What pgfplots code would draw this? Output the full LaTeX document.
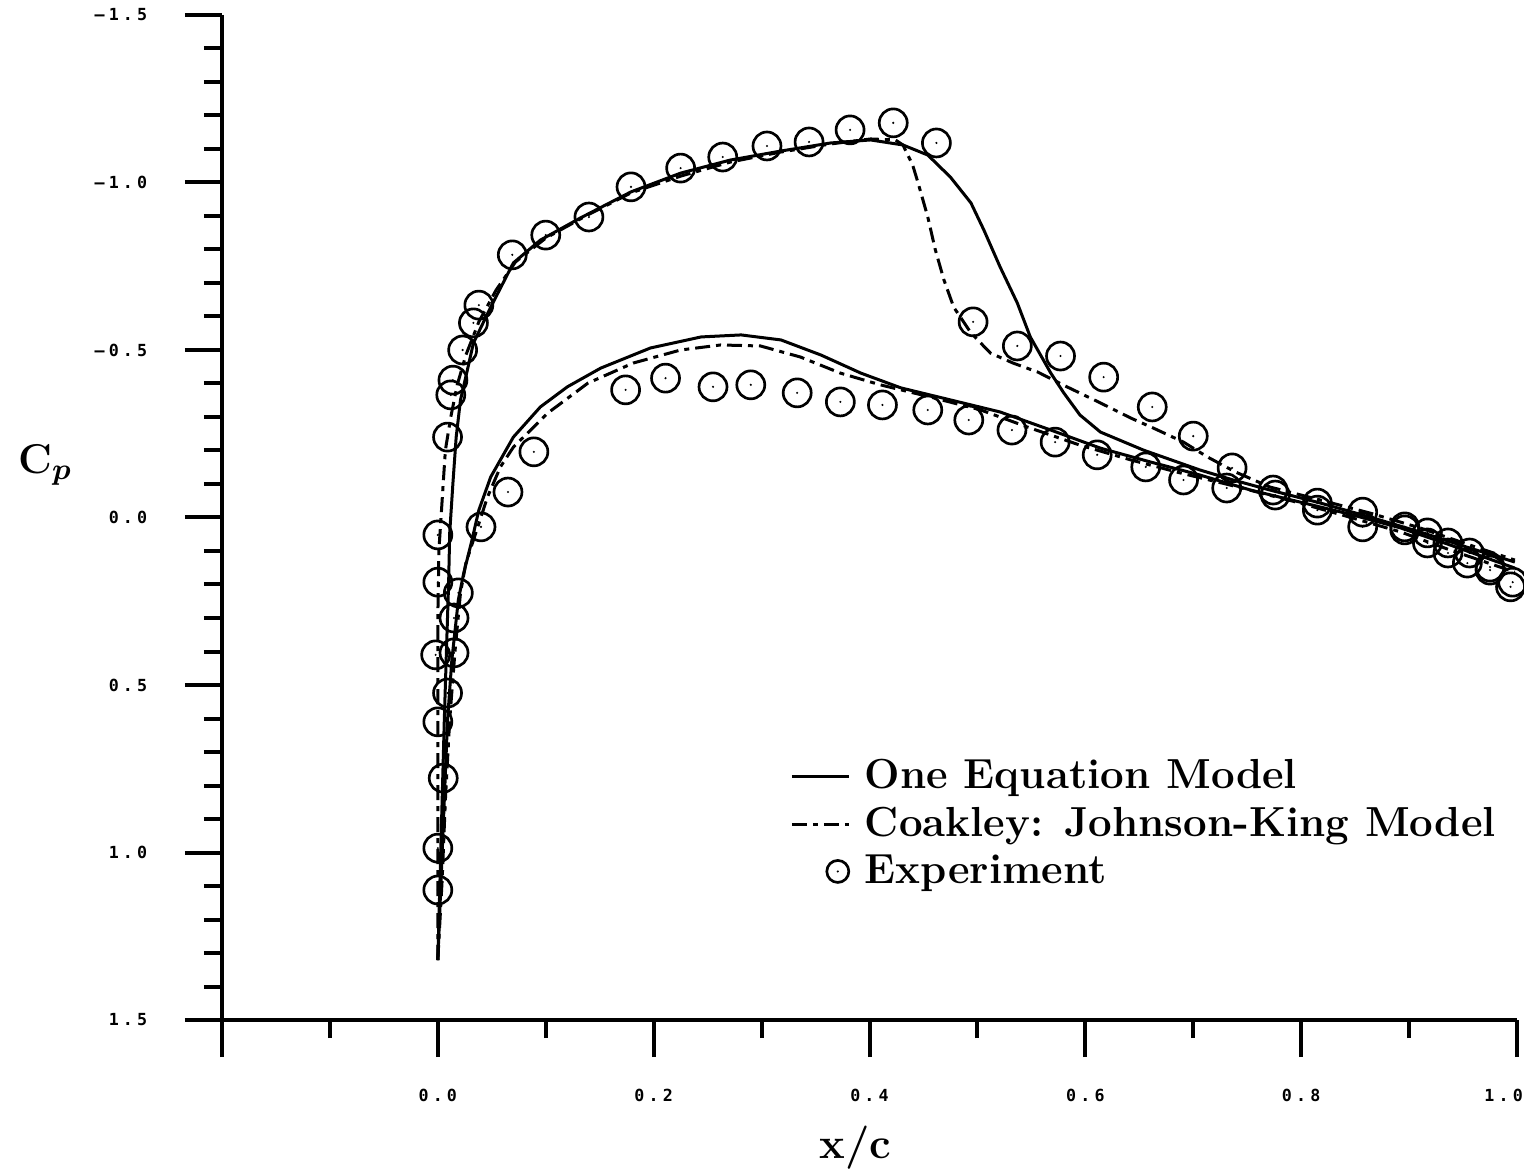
\documentclass[border=0pt]{standalone}
\usepackage{fontspec}
\usepackage{amsmath}
\usepackage{pgfplots}
\pgfplotsset{compat=1.18}
\newfontfamily\tickfont[LetterSpace=25]{DejaVu Sans Mono}

% circle with a dot in the middle
\pgfdeclareplotmark{odot}{%
  \pgfpathcircle{\pgfpointorigin}{\pgfplotmarksize}\pgfusepathqstroke
  \pgfpathcircle{\pgfpointorigin}{0.35pt}\pgfusepathqfill}
\pgfplotsset{odotleg/.style={legend image code/.code={%
  \draw[##1, mark size=3.3pt] plot coordinates {(13.8pt,0pt)};}}}

\pgfplotstableread{
x Cp
0.000 1.321
0.002 1.082
0.004 0.843
0.006 0.604
0.008 0.396
0.010 0.196
0.011 0.046
0.014 -0.103
0.017 -0.240
0.021 -0.351
0.028 -0.449
0.033 -0.521
0.049 -0.628
0.070 -0.760
0.095 -0.828
0.132 -0.894
0.179 -0.972
0.225 -1.028
0.271 -1.067
0.318 -1.094
0.364 -1.118
0.401 -1.127
0.431 -1.112
0.454 -1.082
0.475 -1.016
0.494 -0.939
0.506 -0.858
0.521 -0.748
0.537 -0.640
0.549 -0.539
0.568 -0.431
0.580 -0.372
0.595 -0.306
0.614 -0.255
0.654 -0.201
0.706 -0.142
0.737 -0.112
0.771 -0.082
0.818 -0.043
0.864 -0.001
0.910 0.043
0.956 0.091
0.998 0.133
}\oneupper

\pgfplotstableread{
x Cp
0.000 1.321
0.003 1.082
0.006 0.843
0.009 0.604
0.013 0.425
0.017 0.306
0.019 0.246
0.024 0.166
0.031 0.076
0.038 -0.022
0.049 -0.121
0.070 -0.240
0.095 -0.330
0.120 -0.390
0.151 -0.446
0.197 -0.506
0.244 -0.539
0.281 -0.545
0.318 -0.530
0.355 -0.485
0.392 -0.431
0.429 -0.387
0.475 -0.351
0.521 -0.315
0.568 -0.261
0.614 -0.207
0.660 -0.166
0.706 -0.127
0.753 -0.082
0.799 -0.046
0.845 -0.010
0.892 0.031
0.938 0.082
0.998 0.151
}\onelower

\pgfplotstableread{
x Cp
0.000 1.321
0.000 0.993
0.000 0.694
0.000 0.297
0.001 0.097
0.003 -0.001
0.005 -0.103
0.007 -0.201
0.012 -0.300
0.018 -0.396
0.026 -0.485
0.038 -0.584
0.054 -0.679
0.072 -0.763
0.100 -0.834
0.137 -0.900
0.179 -0.969
0.225 -1.019
0.271 -1.061
0.318 -1.091
0.364 -1.115
0.401 -1.130
0.424 -1.127
0.431 -1.112
0.440 -1.052
0.445 -0.999
0.454 -0.897
0.461 -0.799
0.469 -0.709
0.478 -0.628
0.494 -0.551
0.512 -0.491
0.533 -0.461
0.556 -0.434
0.583 -0.390
0.614 -0.342
0.642 -0.297
0.663 -0.267
0.691 -0.225
0.713 -0.181
0.739 -0.136
0.771 -0.091
0.818 -0.052
0.864 -0.013
0.910 0.031
0.956 0.082
0.998 0.127
}\jkupper

\pgfplotstableread{
x Cp
0.000 1.321
0.004 1.082
0.007 0.843
0.011 0.604
0.016 0.396
0.021 0.225
0.026 0.136
0.037 0.028
0.046 -0.061
0.058 -0.151
0.070 -0.210
0.102 -0.312
0.139 -0.401
0.181 -0.461
0.225 -0.500
0.262 -0.515
0.299 -0.512
0.336 -0.479
0.373 -0.431
0.410 -0.396
0.456 -0.360
0.503 -0.321
0.549 -0.267
0.595 -0.216
0.642 -0.172
0.688 -0.133
0.734 -0.097
0.799 -0.043
0.845 -0.001
0.892 0.043
0.938 0.097
0.998 0.163
}\jklower

\pgfplotstableread{
x Cp
0.000 1.112
0.000 0.987
0.005 0.778
0.000 0.610
-0.002 0.410
0.000 0.193
0.000 0.052
0.009 -0.240
0.012 -0.366
0.014 -0.410
0.023 -0.500
0.033 -0.581
0.038 -0.634
0.069 -0.784
0.100 -0.843
0.140 -0.897
0.179 -0.987
0.225 -1.043
0.264 -1.076
0.305 -1.109
0.344 -1.121
0.382 -1.157
0.422 -1.178
0.462 -1.118
0.496 -0.584
0.537 -0.512
0.577 -0.482
0.617 -0.419
0.662 -0.330
0.700 -0.243
0.736 -0.148
0.774 -0.082
0.815 -0.043
0.857 -0.016
0.896 0.028
0.917 0.046
0.936 0.076
0.956 0.106
0.975 0.148
0.996 0.193
}\expupper

\pgfplotstableread{
x Cp
0.009 0.524
0.015 0.404
0.015 0.300
0.019 0.225
0.040 0.028
0.065 -0.076
0.089 -0.196
0.174 -0.381
0.211 -0.416
0.255 -0.390
0.290 -0.396
0.333 -0.372
0.373 -0.345
0.412 -0.336
0.454 -0.321
0.492 -0.291
0.532 -0.261
0.572 -0.225
0.611 -0.187
0.656 -0.151
0.691 -0.112
0.731 -0.088
0.776 -0.067
0.815 -0.022
0.857 0.028
0.896 0.037
0.917 0.076
0.936 0.106
0.954 0.136
0.975 0.157
0.994 0.207
}\explower

\begin{document}
\begin{tikzpicture}
\begin{axis}[
  scale only axis,
  width=388.5pt, height=301.5pt,
  xmin=-0.2, xmax=1.0, ymin=-1.5, ymax=1.5,
  y dir=reverse,
  axis x line*=bottom, axis y line*=left,
  axis line style={line width=1.2pt, -},
  tick style={line width=1.2pt, black},
  tick align=outside,
  major tick length=11.1pt, minor tick length=5.4pt,
  xtick={-0.2,0,0.2,0.4,0.6,0.8,1.0},
  xticklabels={{},0.0,0.2,0.4,0.6,0.8,{\hspace*{-8pt}1.0}},
  minor xtick={-0.1,0.1,0.3,0.5,0.7,0.9},
  ytick={-1.5,-1,-0.5,0,0.5,1,1.5},
  yticklabels={–1.5,–1.0,–0.5,0.0,0.5,1.0,1.5},
  minor y tick num=4,
  ticklabel style={font=\tickfont\bfseries\fontsize{5}{6}\selectfont},
  xticklabel style={anchor=center, yshift=-11.4pt},
  yticklabel style={anchor=east, xshift=-7.8pt},
  clip=false,
  legend style={at={(axis cs:0.326,0.70)}, anchor=north west,
    draw=none, fill=none, inner sep=0pt,
    font=\bfseries\fontsize{12.6}{14}\selectfont,
    row sep=0pt, cells={anchor=west},
    /tikz/every odd column/.append style={column sep=2.4pt}},
  legend cell align=left,
]
\addplot[black, line width=0.9pt] table {\oneupper};
\addlegendentry{One Equation Model}
\addplot[black, line width=0.9pt, forget plot] table {\onelower};
\addplot[black, line width=0.9pt, dash pattern=on 4.5pt off 1.8pt on 1.5pt off 1.8pt] table {\jkupper};
\addlegendentry{Coakley: Johnson-King Model}
\addplot[black, line width=0.9pt, dash pattern=on 4.5pt off 1.8pt on 1.5pt off 1.8pt, forget plot] table {\jklower};
\addplot[black, only marks, mark=odot, mark size=4.2pt, line width=0.8pt, odotleg] table {\expupper};
\addlegendentry{Experiment}
\addplot[black, only marks, mark=odot, mark size=4.2pt, line width=0.8pt, forget plot] table {\explower};
\node[font=\bfseries\fontsize{12.5}{14}\selectfont] at ([xshift=-53pt]axis cs:-0.2,-0.157) {C$_{\boldsymbol{p}}$};
\node[font=\bfseries\fontsize{13}{15}\selectfont] at ([yshift=-38.4pt]axis cs:0.387,1.5) {x/c};
\coordinate (BL) at (axis cs:-0.2,1.5);
\coordinate (TR) at (axis cs:1.0,-1.5);
\end{axis}
\pgfresetboundingbox
\path[use as bounding box] ([xshift=-66.6pt,yshift=-46.2pt]BL) rectangle ([xshift=2.1pt,yshift=4.5pt]TR);
\end{tikzpicture}
\end{document}
